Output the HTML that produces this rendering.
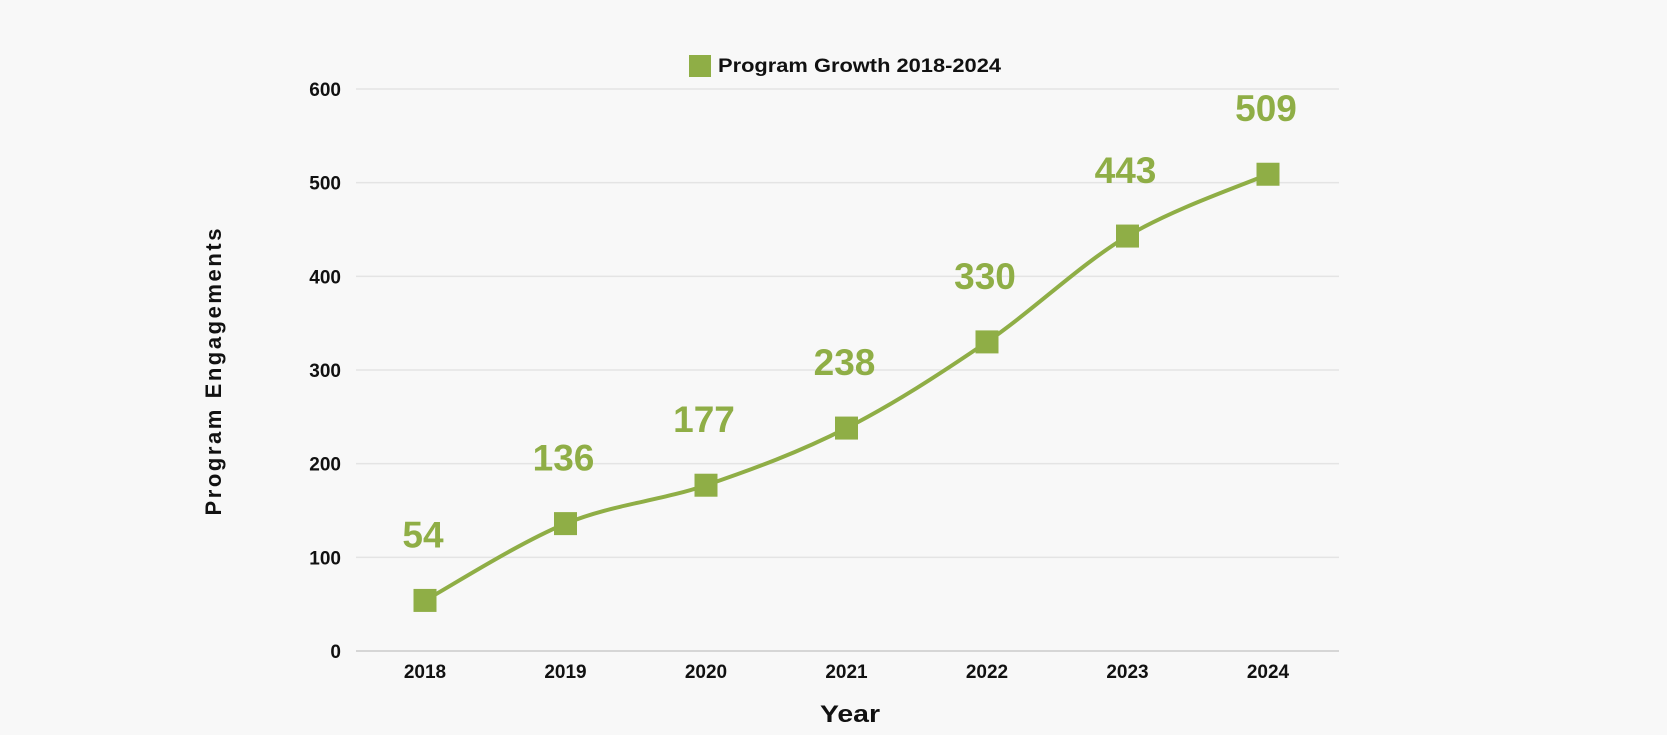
<!DOCTYPE html>
<html><head><meta charset="utf-8"><style>
html,body{margin:0;padding:0;background:#f8f8f8;}
svg{display:block;font-family:"Liberation Sans",sans-serif;}
</style></head><body>
<svg id="chart" width="1667" height="735" viewBox="0 0 1667 735" xmlns="http://www.w3.org/2000/svg">
<rect width="1667" height="735" fill="#f8f8f8"/>
<g id="grid"></g><g id="series"></g><g id="labels"></g>
<g>
<rect x="689" y="55" width="22" height="22" fill="#8fae46"/>
<text x="718" y="72" font-size="19" font-weight="bold" fill="#111" textLength="283" lengthAdjust="spacingAndGlyphs">Program Growth 2018-2024</text>
</g>
<text x="850" y="722" font-size="24" font-weight="bold" text-anchor="middle" fill="#111" textLength="60" lengthAdjust="spacingAndGlyphs">Year</text>
<text transform="translate(221,372) rotate(-90)" font-size="22" font-weight="bold" text-anchor="middle" fill="#111" textLength="287" lengthAdjust="spacing">Program Engagements</text>
</svg>
<script>
const categories = ["2018","2019","2020","2021","2022","2023","2024"];
const values = [54,136,177,238,330,443,509];
const yTicks = [0,100,200,300,400,500,600];
const ns="http://www.w3.org/2000/svg";
const X0=356,X1=1339,Y0=651,Y600=89,first=425,step=140.5;
function xs(i){return first+i*step;}
function ys(v){return Y0-(v/600)*(Y0-Y600);}
function mk(t,a,p){const e=document.createElementNS(ns,t);for(const k in a)e.setAttribute(k,a[k]);p.appendChild(e);return e;}
const grid=document.getElementById('grid');
yTicks.forEach(t=>{
 const l=mk('line',{x1:X0,x2:X1,y1:ys(t),y2:ys(t),stroke:t===0?'#d6d6d6':'#e4e4e4','stroke-width':t===0?2:1.5},grid);
 
 
 const tx=mk('text',{x:341,y:ys(t)+7,'font-size':19,'font-weight':'bold','text-anchor':'end',fill:'#111'},grid);
 tx.textContent=t;
 
 
});
categories.forEach((c,i)=>{
 const tx=mk('text',{x:xs(i),y:678,'font-size':19,'font-weight':'bold','text-anchor':'middle',fill:'#111'},grid);
 tx.textContent=c;
 
 
});
const pts=values.map((v,i)=>[xs(i),ys(v)]);
let d='M'+pts[0][0]+','+pts[0][1];
for(let i=0;i<pts.length-1;i++){
 const p0=pts[Math.max(0,i-1)],p1=pts[i],p2=pts[i+1],p3=pts[Math.min(pts.length-1,i+2)];
 const k=6;
 d+=` C${p1[0]+(p2[0]-p0[0])/k},${p1[1]+(p2[1]-p0[1])/k} ${p2[0]-(p3[0]-p1[0])/k},${p2[1]-(p3[1]-p1[1])/k} ${p2[0]},${p2[1]}`;
}
const series=document.getElementById('series');
const path=mk('path',{d:d,fill:'none',stroke:'#8fae46','stroke-width':4},series);


const labels=document.getElementById('labels');
values.forEach((v,i)=>{
 const r=mk('rect',{x:xs(i)-11.5,y:ys(v)-11.5,width:23,height:23,fill:'#8fae46'},series);
 
 
 const t=mk('text',{x:xs(i)-2,y:ys(v)-53,'font-size':37,'font-weight':'bold','text-anchor':'middle',fill:'#8fae46'},labels);
 t.textContent=v;
 
 
});
</script>
</body></html>
